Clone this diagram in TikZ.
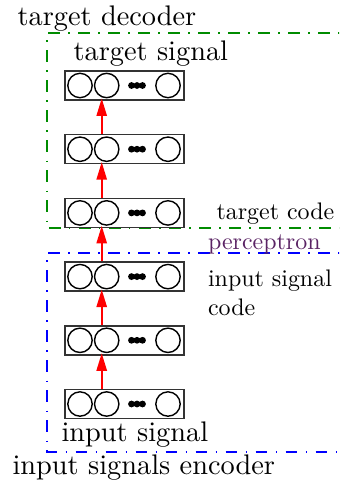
\documentclass[tikz,border=0pt]{standalone}
\usepackage{graphicx}
\usetikzlibrary{arrows.meta,calc}
\definecolor{percol}{RGB}{90,35,100}
\definecolor{decgreen}{RGB}{0,140,0}
\tikzset{
  layerbox/.style={draw=black!80, line width=0.55pt, rectangle, minimum width=42.0pt, minimum height=10.24pt, inner sep=0pt},
  unit/.style={draw, line width=0.5pt, circle, minimum size=8.6pt, inner sep=0pt},
  conn/.style={draw=red, line width=0.7pt, -{Triangle[length=6.2pt,width=3.6pt]}},
  frame/.style={line width=0.6pt, dash pattern=on 4.1pt off 3pt on 0.5pt off 3pt},
  bigtxt/.style={anchor=base west, inner sep=0pt, font=\normalsize},
  smalltxt/.style={anchor=base west, inner sep=0pt},
}
\newcommand\mylayer[2]{%
  \node[layerbox] (#1) at (124.5,#2) {};
  \node[unit] (#1a) at (80,#2) {};
  \node[unit] (#1b) at (106.7,#2) {};
  \node[unit] (#1d) at (168,#2) {};
  \fill (131.5,#2) circle[radius=1.2pt] (137,#2) circle[radius=1.2pt] (142.5,#2) circle[radius=1.2pt];
}
\begin{document}
\begin{tikzpicture}[x=0.353pt,y=-0.353pt]
\clip (0,0) rectangle (339,483);
\useasboundingbox (0,0) rectangle (339,483);
% frames
\draw[frame, draw=decgreen] (360,33.3) -- (46.7,33.3) -- (46.7,228.3) -- (360,228.3);
\draw[frame, draw=blue] (360,253.3) -- (46.7,253.3) -- (46.7,451.7) -- (360,451.7);
% layers
\mylayer{L1}{85.5}
\mylayer{L2}{149.2}
\mylayer{L3}{212.9}
\mylayer{L4}{276.6}
\mylayer{L5}{340.3}
\mylayer{L6}{404.0}
% connectors
\foreach \lo/\hi in {L6/L5,L5/L4,L4/L3,L3/L2,L2/L1}{
  \draw[conn, fill=red] ($(\lo.north -| \lo b)+(-5,0)$) -- ($(\hi b.south)+(-5,0)$);
}
% texts
\node[bigtxt] (tdec) at (17,25) {target decoder};
\node[bigtxt] (tsig) at (73,60) {target signal};
\node[smalltxt] (tcode) at (216,219) {\scalebox{0.845}{target code}};
\node[smalltxt, text=percol] (perc) at (207.5,249) {\scalebox{0.845}{perceptron}};
\node[smalltxt] (iscode1) at (207.5,286.7) {\scalebox{0.845}{input signal}};
\node[smalltxt] (iscode2) at (207.5,315) {\scalebox{0.845}{code}};
\node[bigtxt] (isig) at (61,441.7) {input signal};
\node[bigtxt] (ienc) at (12,474) {input signals encoder};
\end{tikzpicture}
\end{document}
